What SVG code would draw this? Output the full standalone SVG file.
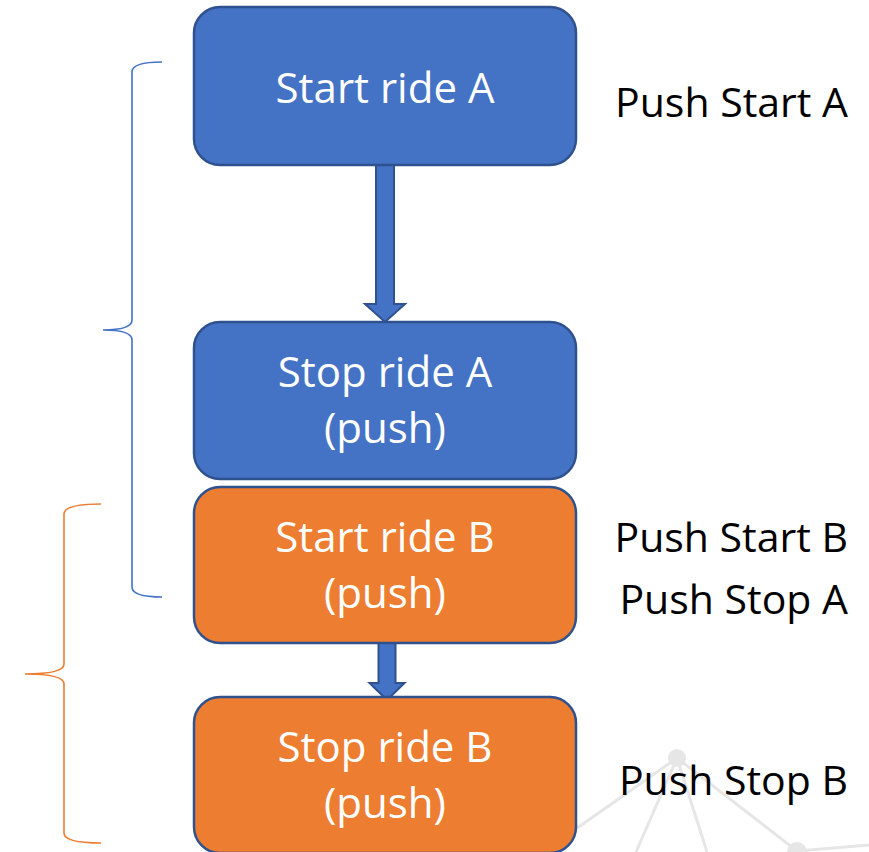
<svg xmlns="http://www.w3.org/2000/svg" width="869" height="852" viewBox="0 0 869 852">
  <style>
    .box { stroke: #2F528F; stroke-width: 2.5; }
    .blue { fill: #4472C4; }
    .orange { fill: #ED7D31; }
    .label { font-family: "Open Sans", "Liberation Sans", sans-serif; font-size: 42px; text-anchor: middle; fill: #FFFFFF; }
    .note { font-family: "Open Sans", "Liberation Sans", sans-serif; font-size: 41px; text-anchor: end; fill: #000000; }
    .arrow { fill: #4472C4; stroke: #2F528F; stroke-width: 2; stroke-linejoin: miter; }
    .brace { fill: none; stroke-width: 1.6; }
    .net { stroke: #E6E6E6; stroke-width: 3; fill: none; }
  </style>

  <rect width="869" height="852" fill="#FFFFFF"/>

  <!-- faint network decoration, bottom right -->
  <g id="decoration">
    <path class="net" d="M677,758 L560,840 M677,758 L636,852 M677,758 L707,852 M677,758 L797,851 M797,851 L869,845"/>
    <circle cx="677" cy="758" r="9" fill="#E6E6E6"/>
    <circle cx="797" cy="852" r="10" fill="#E6E6E6"/>
  </g>

  <!-- brackets grouping the rides -->
  <g id="brace-a">
    <path class="brace" stroke="#4472C4" d="M162,62 Q132,62 132,72 L132,320 Q132,330 103,330 Q132,330 132,340 L132,587 Q132,597 162,597"/>
  </g>
  <g id="brace-b">
    <path class="brace" stroke="#ED7D31" d="M101,504 Q64,504 64,514 L64,664 Q64,674 25,674 Q64,674 64,684 L64,833 Q64,843 101,843"/>
  </g>

  <g id="connectors">
    <path class="arrow" d="M376,165 L394,165 L394,304 L405,304 L385,322 L365,304 L376,304 Z"/>
    <path class="arrow" d="M378.5,643 L395.5,643 L395.5,683 L404.5,683 L387,700 L369.5,683 L378.5,683 Z"/>
  </g>

  <g id="start-a">
    <rect class="box blue" x="194" y="7" width="382" height="158" rx="26"/>
    <text class="label" x="385" y="103">Start ride A</text>
  </g>

  <g id="stop-a">
    <rect class="box blue" x="194" y="322" width="382" height="157" rx="26"/>
    <text class="label" x="385" y="387">Stop ride A</text>
    <text class="label" x="385" y="443">(push)</text>
  </g>

  <g id="start-b">
    <rect class="box orange" x="194" y="487" width="382" height="156" rx="26"/>
    <text class="label" x="385" y="552">Start ride B</text>
    <text class="label" x="385" y="608">(push)</text>
  </g>

  <g id="stop-b">
    <rect class="box orange" x="194" y="697" width="382" height="156" rx="26"/>
    <text class="label" x="385" y="762">Stop ride B</text>
    <text class="label" x="385" y="818">(push)</text>
  </g>

  <g id="notes">
    <text class="note" x="848" y="117">Push Start A</text>
    <text class="note" x="848" y="552">Push Start B</text>
    <text class="note" x="848" y="614">Push Stop A</text>
    <text class="note" x="848" y="795">Push Stop B</text>
  </g>
</svg>
